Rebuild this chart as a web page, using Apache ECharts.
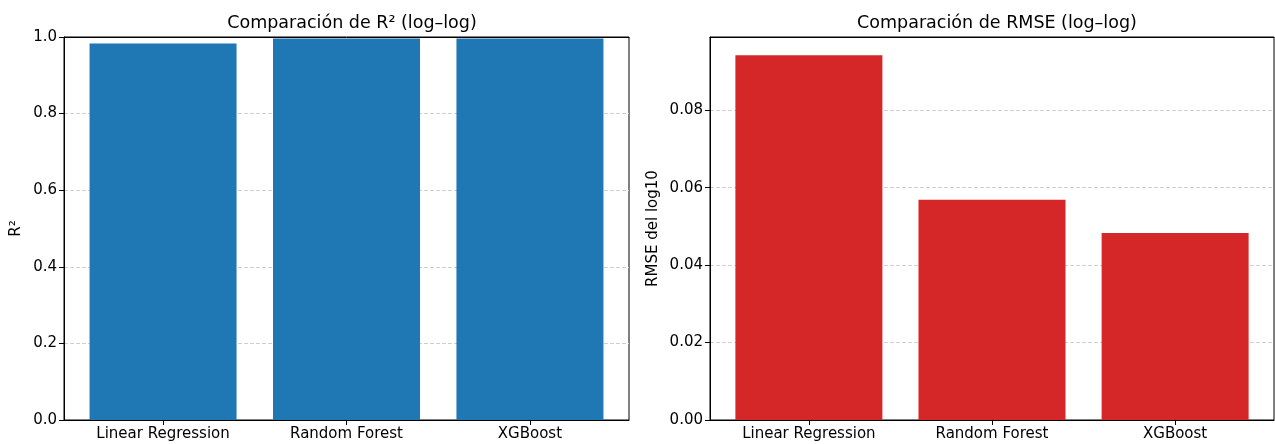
<!DOCTYPE html>
<html>
<head>
<meta charset="utf-8">
<script src="https://cdn.jsdelivr.net/npm/echarts@6/dist/echarts.min.js"></script>
<style>
  html, body { margin: 0; padding: 0; background: #fff; }
  #main { width: 1275px; height: 444px; }
</style>
</head>
<body>
<div id="main"></div>
<script>
// datos
var modelos = ['Linear Regression', 'Random Forest', 'XGBoost'];
var r2 = [0.983, 0.996, 0.996];
var rmse = [0.0942, 0.0569, 0.0483];
var r2Ticks = [0, 0.2, 0.4, 0.6, 0.8, 1.0];
var rmseTicks = [0, 0.02, 0.04, 0.06, 0.08];

var FONT = 'DejaVu Sans';

function toPairs(vals) {
  var out = [];
  for (var i = 0; i < vals.length; i++) out.push([i, vals[i]]);
  return out;
}

function xAxisCfg(idx) {
  return {
    type: 'value', gridIndex: idx, min: -0.54, max: 2.54,
    axisLine: { show: true, onZero: false, lineStyle: { color: '#000', width: 1 } },
    axisTick: { show: true, length: 5, customValues: [0, 1, 2], lineStyle: { color: '#000' } },
    axisLabel: {
      customValues: [0, 1, 2], margin: 7, color: '#000', fontFamily: FONT, fontSize: 15,
      formatter: function (v) { return modelos[Math.round(v)]; }
    },
    splitLine: { show: false }
  };
}

// eje superior solo para el marco (tapa la linea de rejilla en el maximo)
function topAxisCfg(idx) {
  return {
    type: 'value', gridIndex: idx, position: 'top', min: -0.54, max: 2.54,
    axisLine: { show: true, onZero: false, lineStyle: { color: '#000', width: 1 } },
    axisTick: { show: false }, axisLabel: { show: false }, splitLine: { show: false }
  };
}

function yAxisCfg(idx, max, ticks, dec, name, gap) {
  return {
    type: 'value', gridIndex: idx, min: 0, max: max,
    name: name, nameLocation: 'middle', nameRotate: 90, nameGap: gap,
    nameTextStyle: { color: '#000', fontFamily: FONT, fontSize: 15 },
    axisLine: { show: true, onZero: false, lineStyle: { color: '#000', width: 1 } },
    axisTick: { show: true, length: 5, customValues: ticks, lineStyle: { color: '#000' } },
    axisLabel: {
      customValues: ticks, margin: 7, color: '#000', fontFamily: FONT, fontSize: 15,
      formatter: function (v) { return v.toFixed(dec); }
    },
    splitLine: { show: true, lineStyle: { color: '#cfcfcf', type: [4, 2], width: 1 } }
  };
}

var myChart = echarts.init(document.getElementById('main'), null, { renderer: 'canvas' });
var option = {
  backgroundColor: '#fff',
  animation: false,
  title: [
    { text: 'Comparación de R² (log–log)', left: 347, top: 9, textAlign: 'center',
      textStyle: { fontFamily: FONT, fontSize: 17.5, fontWeight: 'normal', color: '#000' } },
    { text: 'Comparación de RMSE (log–log)', left: 992, top: 9, textAlign: 'center',
      textStyle: { fontFamily: FONT, fontSize: 17.5, fontWeight: 'normal', color: '#000' } }
  ],
  grid: [
    { left: 64, right: 646, top: 37, bottom: 24, show: true, borderColor: '#000', borderWidth: 1, backgroundColor: 'transparent' },
    { left: 710, right: 1, top: 37, bottom: 24, show: true, borderColor: '#000', borderWidth: 1, backgroundColor: 'transparent' }
  ],
  xAxis: [xAxisCfg(0), xAxisCfg(1), topAxisCfg(0), topAxisCfg(1)],
  yAxis: [
    yAxisCfg(0, 1.0, r2Ticks, 1, 'R²', 40),
    yAxisCfg(1, 0.0942 * 1.05, rmseTicks, 2, 'RMSE del log10', 49)
  ],
  series: [
    { type: 'bar', xAxisIndex: 0, yAxisIndex: 0, data: toPairs(r2), barWidth: 147,
      itemStyle: { color: '#1f77b4' } },
    { type: 'bar', xAxisIndex: 1, yAxisIndex: 1, data: toPairs(rmse), barWidth: 147,
      itemStyle: { color: '#d62728' } }
  ]
};
myChart.setOption(option);
</script>
</body>
</html>
